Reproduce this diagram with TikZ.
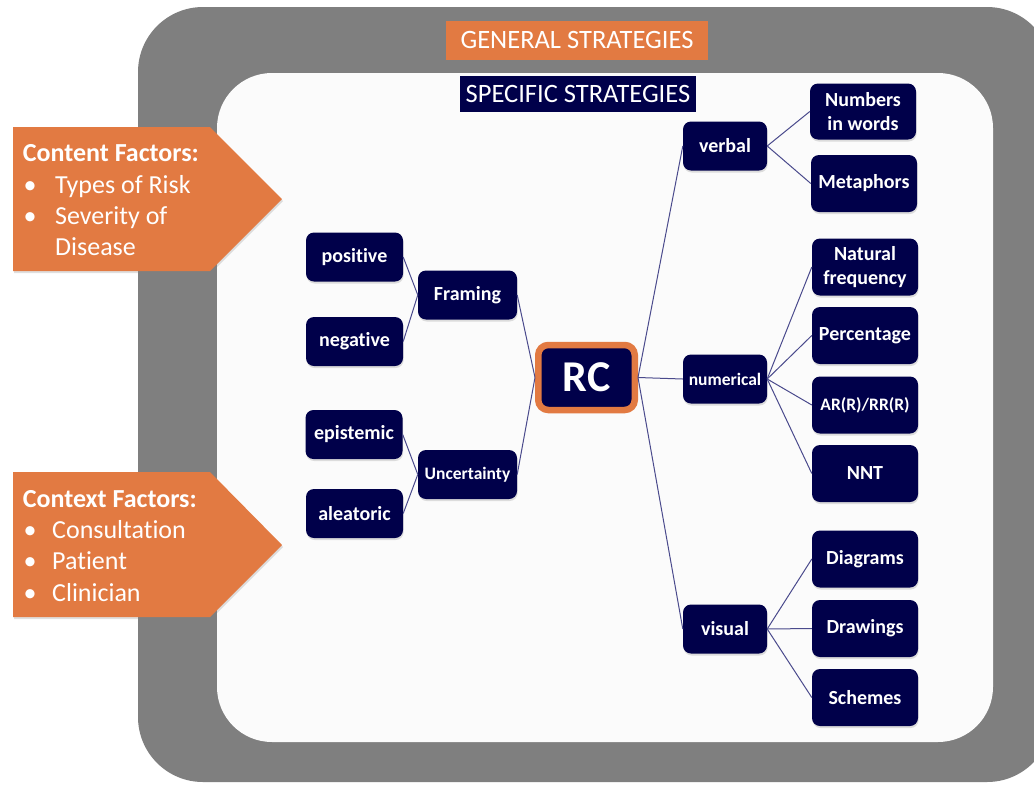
\documentclass[tikz,border=0pt]{standalone}
\usepackage{fontspec}
\setmainfont{Carlito}[RawFeature={-liga}]
\usetikzlibrary{shadows}

\definecolor{navy}{HTML}{00004A}
\definecolor{accent}{HTML}{E27A42}
\definecolor{framegray}{HTML}{7F7F7F}
\definecolor{linkcol}{HTML}{4A4A8C}
\definecolor{panel}{HTML}{FBFBFB}

\tikzset{
  box/.style={fill=navy, rounded corners=8pt, text=white, align=center,
    inner sep=0pt, font=\bfseries\fontsize{20}{24.4}\selectfont,
    drop shadow={opacity=0.25, shadow xshift=0.6pt, shadow yshift=-2pt}},
  small/.style={font=\bfseries\fontsize{17.5}{21}\selectfont},
  leafL/.style={box, minimum width=97pt, minimum height=49pt},
  midL/.style={box, minimum width=99pt, minimum height=49pt},
  midR/.style={box, minimum width=84pt, minimum height=49pt},
  leafR/.style={box, minimum width=106pt, minimum height=57pt},
  link/.style={draw=linkcol, line width=1pt},
  factor/.style={fill=accent, draw=none,
    drop shadow={opacity=0.25, shadow xshift=1pt, shadow yshift=-2pt}},
  ftitle/.style={anchor=base west, inner sep=0pt, text=white,
    font=\bfseries\fontsize{26}{31}\selectfont},
  fitem/.style={anchor=base west, inner sep=0pt, text=white,
    font=\fontsize{26}{31}\selectfont},
  fbullet/.style={anchor=base, inner sep=0pt, text=white,
    font=\fontsize{26}{31}\selectfont},
  banner/.style={inner sep=0pt, text=white, font=\fontsize{26.5}{30}\selectfont}
}

\begin{document}
\begin{tikzpicture}[x=1pt, y=-1pt]
  \clip (0,0) rectangle (1034,785);
  \fill[white] (0,0) rectangle (1034,785);

  % frames
  \fill[framegray, rounded corners=65pt] (138,7) rectangle (1052,782);
  \fill[panel, rounded corners=55pt] (217,73) rectangle (993,742);

  % banners
  \node[banner, fill=accent, minimum width=262pt, minimum height=39pt] (general) at (577,40) {GENERAL STRATEGIES};
  \node[banner, fill=navy, minimum width=236pt, minimum height=36pt] (specific) at (578,93.5) {SPECIFIC STRATEGIES};

  % factor arrows
  \fill[factor] (13,127) -- (210,127) -- (282,199) -- (210,271) -- (13,271) -- cycle;
  \node[ftitle] (content) at (22.7,161) {Content Factors:};
  \node[fbullet] (cb1) at (30,193) {•};
  \node[fitem] (c1) at (55,193) {Types of Risk};
  \node[fbullet] (cb2) at (30,224) {•};
  \node[fitem] (c2) at (55,224) {Severity of};
  \node[fitem] (c3) at (55,255) {Disease};

  \fill[factor] (13,472) -- (210,472) -- (282,545) -- (210,617) -- (13,617) -- cycle;
  \node[ftitle] (context) at (22.7,507) {Context Factors:};
  \node[fbullet] (xb1) at (30,538) {•};
  \node[fitem] (x1) at (52,538) {Consultation};
  \node[fbullet] (xb2) at (30,569) {•};
  \node[fitem] (x2) at (52,569) {Patient};
  \node[fbullet] (xb3) at (30,601) {•};
  \node[fitem] (x3) at (52,601) {Clinician};

  % centre
  \node[draw=accent, line width=6.5pt, fill=navy, rounded corners=10pt,
        minimum width=96.5pt, minimum height=65pt, inner sep=0pt, text=white,
        font=\bfseries\fontsize{44}{50}\selectfont,
        drop shadow={opacity=0.2, shadow xshift=0.6pt, shadow yshift=-2pt}] (rc) at (586.5,377.5) {RC};

  % left branches
  \node[leafL] (pos) at (354.5,257) {positive};
  \node[leafL] (neg) at (354.5,341.5) {negative};
  \node[midL] (fram) at (467.5,295) {Framing};
  \node[leafL] (epi) at (354,434.5) {epistemic};
  \node[leafL] (ale) at (354.5,513.5) {aleatoric};
  \node[midL, small] (unc) at (467.5,474.5) {Uncertainty};

  % right branches
  \node[midR] (verb) at (725,146) {verbal};
  \node[midR, small] (num) at (725,379) {numerical};
  \node[midR] (vis) at (725,629) {visual};

  \node[leafR, minimum height=56pt] (words) at (863,111.5) {Numbers\\in words};
  \node[leafR] (meta) at (864,183.5) {Metaphors};
  \node[leafR] (natf) at (865,267) {Natural\\frequency};
  \node[leafR] (perc) at (865,335.5) {Percentage};
  \node[leafR, small] (arr) at (865,405) {AR(R)/RR(R)};
  \node[leafR] (nnt) at (865,473.5) {NNT};
  \node[leafR] (diag) at (865,559) {Diagrams};
  \node[leafR] (draw) at (865,628.5) {Drawings};
  \node[leafR] (sche) at (865,697.5) {Schemes};

  % connectors
  \draw[link] (pos.east) -- (fram.west);
  \draw[link] (neg.east) -- (fram.west);
  \draw[link] (epi.east) -- (unc.west);
  \draw[link] (ale.east) -- (unc.west);
  \draw[link] (fram.east) -- (rc.west);
  \draw[link] (unc.east) -- (rc.west);

  \draw[link] (rc.east) -- (verb.west);
  \draw[link] (rc.east) -- (num.west);
  \draw[link] (rc.east) -- (vis.west);

  \draw[link] (verb.east) -- (words.west);
  \draw[link] (verb.east) -- (meta.west);
  \draw[link] (num.east) -- (natf.west);
  \draw[link] (num.east) -- (perc.west);
  \draw[link] (num.east) -- (arr.west);
  \draw[link] (num.east) -- (nnt.west);
  \draw[link] (vis.east) -- (diag.west);
  \draw[link] (vis.east) -- (draw.west);
  \draw[link] (vis.east) -- (sche.west);
\end{tikzpicture}
\end{document}
